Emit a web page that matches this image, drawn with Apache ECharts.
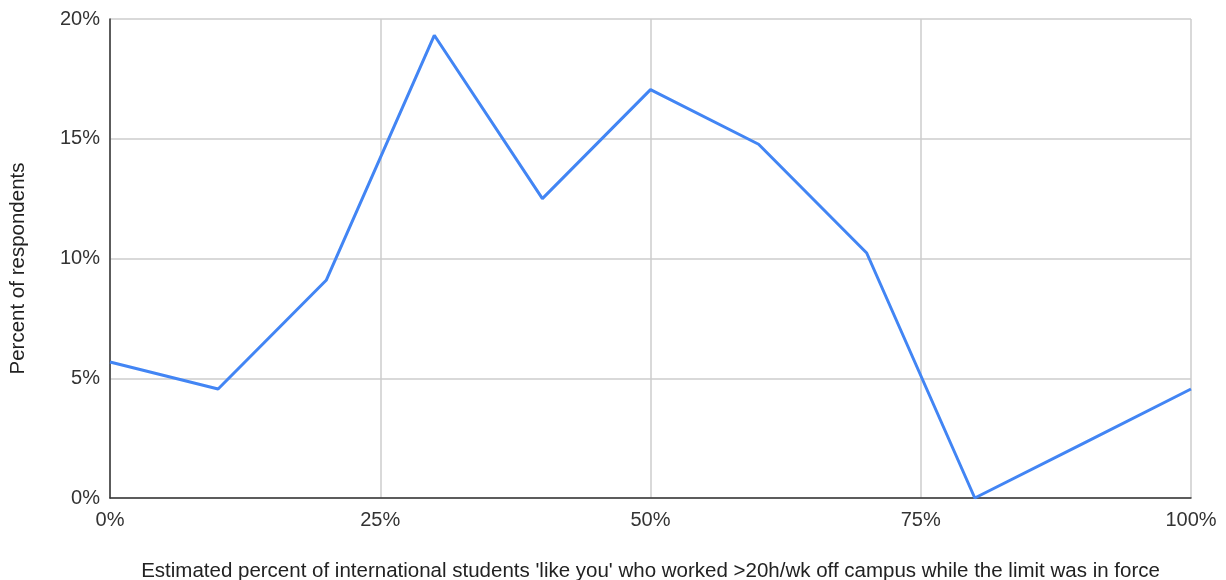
<!DOCTYPE html>
<html>
<head>
<meta charset="utf-8">
<script src="https://cdn.jsdelivr.net/npm/echarts@6/dist/echarts.min.js"></script>
<style>html,body{margin:0;padding:0;background:#fff}#c{width:1226px;height:580px}</style>
</head>
<body>
<div id="c"></div>
<script>
const xValues = [0, 10, 20, 30, 40, 50, 60, 70, 80, 90, 100];
const percentRespondents = [5.68, 4.55, 9.09, 19.32, 12.5, 17.05, 14.77, 10.23, 0, 2.27, 4.55];
const xTitle = "Estimated percent of international students 'like you' who worked >20h/wk off campus while the limit was in force";
const yTitle = "Percent of respondents";

const chart = echarts.init(document.getElementById('c'), null, {renderer: 'canvas'});
const font = 'Liberation Sans, Arial, sans-serif';
chart.setOption({
  animation: false,
  grid: {left: 110, right: 35, top: 19, bottom: 82, containLabel: false, outerBoundsMode: 'none'},
  xAxis: {
    type: 'value', min: 0, max: 100, interval: 25,
    name: xTitle, nameLocation: 'middle', nameGap: 63,
    nameTextStyle: {fontFamily: font, fontSize: 20.5, color: '#222'},
    axisLine: {show: true, lineStyle: {color: '#333', width: 1.5}},
    axisTick: {show: false},
    axisLabel: {formatter: v => v + '%', fontFamily: font, fontSize: 20, color: '#333', margin: 12},
    splitLine: {show: true, lineStyle: {color: '#ccc', width: 1.5}}
  },
  yAxis: {
    type: 'value', min: 0, max: 20, interval: 5,
    name: yTitle, nameLocation: 'middle', nameGap: 81,
    nameTextStyle: {fontFamily: font, fontSize: 20.5, color: '#222', padding: [0, 20, 0, 0]},
    axisLine: {show: true, lineStyle: {color: '#333', width: 1.5}},
    axisTick: {show: false},
    axisLabel: {formatter: v => v + '%', fontFamily: font, fontSize: 20, color: '#333', margin: 10},
    splitLine: {show: true, lineStyle: {color: '#ccc', width: 1.5}}
  },
  series: [{
    type: 'line',
    data: xValues.map((x, i) => [x, percentRespondents[i]]),
    showSymbol: false,
    lineStyle: {color: '#4285F4', width: 3},
    itemStyle: {color: '#4285F4'}
  }]
});
</script>
</body>
</html>
